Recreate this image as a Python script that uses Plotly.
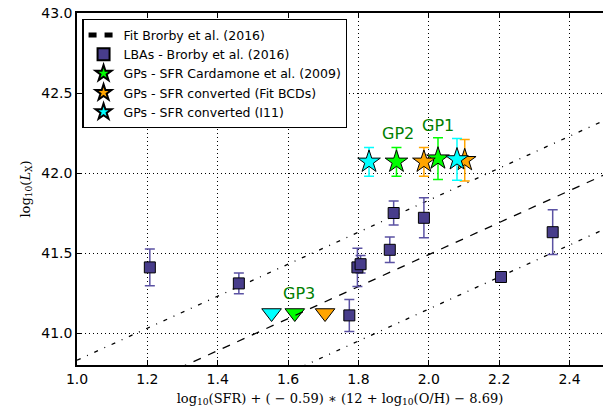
import plotly.graph_objects as go

# ---- data ----
lba_x = [1.207, 1.46, 1.774, 1.797, 1.806, 1.889, 1.90, 1.986, 2.205, 2.352]
lba_y = [41.41, 41.31, 41.11, 41.41, 41.43, 41.52, 41.75, 41.72, 41.35, 41.63]
lba_err = [0.115, 0.065, 0.10, 0.12, 0.055, 0.08, 0.075, 0.125, 0.015, 0.14]

gp_card_x = [1.908, 2.026]
gp_card_y = [42.07, 42.09]
gp_card_err = [0.09, 0.13]

gp_bcd_x = [1.986, 2.102]
gp_bcd_y = [42.07, 42.08]
gp_bcd_err = [0.09, 0.13]

gp_i11_x = [1.830, 2.080]
gp_i11_y = [42.07, 42.085]
gp_i11_err = [0.09, 0.13]

# GP3 upper limits (cyan, green, orange)
gp3_x = [1.553, 1.619, 1.705]
gp3_y = [41.125, 41.125, 41.125]

gp_labels = ["GP1", "GP2", "GP3"]
gp_label_x = [2.025, 1.913, 1.63]
gp_label_y = [42.30, 42.25, 41.25]

# Brorby et al. (2016) fit: log Lx = x + intercept, +/- scatter
fit_intercept = 39.49
fit_slope = 1.0
fit_scatter = 0.34
fit_x = [1.0, 2.5]

x_ticks = [1.0, 1.2, 1.4, 1.6, 1.8, 2.0, 2.2, 2.4]
y_ticks = [41.0, 41.5, 42.0, 42.5, 43.0]

fit_y = [fit_intercept + fit_slope * v for v in fit_x]
fit_up = [v + fit_scatter for v in fit_y]
fit_lo = [v - fit_scatter for v in fit_y]

fig = go.Figure()

# upper limits (triangles)
tri_colors = ["#00ffff", "#00ff00", "#ffa500"]
for xx, yy, c in zip(gp3_x, gp3_y, tri_colors):
    fig.add_trace(go.Scatter(x=[xx], y=[yy], mode="markers", showlegend=False,
                             marker=dict(symbol="triangle-down", size=17, color=c,
                                         line=dict(color="black", width=1))))

# fit lines
fig.add_trace(go.Scatter(x=fit_x, y=fit_up, mode="lines", showlegend=False,
                         line=dict(color="black", width=1.3, dash="4px,7px,1px,7px")))
fig.add_trace(go.Scatter(x=fit_x, y=fit_lo, mode="lines", showlegend=False,
                         line=dict(color="black", width=1.3, dash="4px,7px,1px,7px")))
fig.add_trace(go.Scatter(x=fit_x, y=fit_y, mode="lines", name="Fit Brorby et al. (2016)",
                         legendrank=1,
                         line=dict(color="black", width=1.3, dash="8px,8px")))

# LBAs
fig.add_trace(go.Scatter(x=lba_x, y=lba_y, mode="markers", name="LBAs - Brorby et al. (2016)",
                         legendrank=2,
                         error_y=dict(type="data", array=lba_err, color="#5b52a3",
                                      thickness=1.5, width=5),
                         marker=dict(symbol="square", size=11, color="#483d8b",
                                     line=dict(color="black", width=1))))

# GPs stars
star_sets = [
    (gp_card_x, gp_card_y, gp_card_err, "#00ff00", "GPs - SFR Cardamone et al. (2009)", 3),
    (gp_bcd_x, gp_bcd_y, gp_bcd_err, "#ffa500", "GPs - SFR converted (Fit BCDs)", 4),
    (gp_i11_x, gp_i11_y, gp_i11_err, "#00ffff", "GPs - SFR converted (I11)", 5),
]
for xs, ys, es, c, nm, rk in star_sets:
    fig.add_trace(go.Scatter(x=xs, y=ys, mode="markers", name=nm, legendrank=rk,
                             error_y=dict(type="data", array=es, color=c,
                                          thickness=1.5, width=5),
                             marker=dict(symbol="star", size=17, color=c,
                                         line=dict(color="black", width=1))))

for t, xx, yy in zip(gp_labels, gp_label_x, gp_label_y):
    fig.add_annotation(x=xx, y=yy, text=t, showarrow=False,
                       font=dict(family="DejaVu Sans", size=16, color="#008000"))

axis_common = dict(
    showgrid=True, gridcolor="black", gridwidth=1, griddash="1px,3px",
    zeroline=False, showline=True, linecolor="black", linewidth=1.5,
    ticks="inside", ticklen=5, tickcolor="black", tickwidth=1,
    tickfont=dict(family="DejaVu Sans", size=14, color="black"),
)

fig.update_xaxes(range=[1.0, 2.495], tickvals=x_ticks,
                 ticktext=[f"{v:.1f}" for v in x_ticks],
                 mirror="allticks",
                 title=dict(text="log<sub>10</sub>(SFR) + ( − 0.59) ∗ (12 + log<sub>10</sub>(O/H) − 8.69)",
                            font=dict(family="DejaVu Serif", size=13, color="black"),
                            standoff=8),
                 **axis_common)
fig.update_yaxes(range=[40.8, 43.0], tickvals=y_ticks,
                 ticktext=[f"{v:.1f}" for v in y_ticks],
                 mirror=False,
                 title=dict(text="log<sub>10</sub>(<i>L</i><sub>X</sub>)",
                            font=dict(family="DejaVu Serif", size=13, color="black"),
                            standoff=8),
                 **axis_common)

fig.update_layout(
    width=603, height=415, autosize=False,
    margin=dict(l=77, r=0, t=13, b=50),
    plot_bgcolor="white", paper_bgcolor="white",
    legend=dict(x=0.01, y=0.983, xanchor="left", yanchor="top",
                bgcolor="white", bordercolor="black", borderwidth=1.3,
                font=dict(family="DejaVu Sans", size=12.5, color="black"),
                tracegroupgap=0, itemsizing="constant"),
)

fig.write_html("out.html")
